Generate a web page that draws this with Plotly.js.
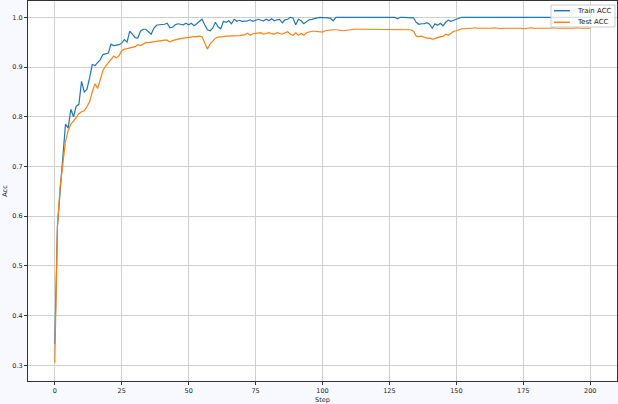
<!DOCTYPE html>
<html>
<head>
<meta charset="utf-8">
<script src="https://cdn.plot.ly/plotly-3.0.1.min.js"></script>
<style>
html,body{margin:0;padding:0;background:#f8f9ff;}
#chart{width:618px;height:404px;}
</style>
</head>
<body>
<div id="chart"></div>
<script>
const seriesNames = ["Train ACC", "Test ACC"];
const seriesColors = ["#1f77b4", "#ff7f0e"];
const xTickVals = [0, 25, 50, 75, 100, 125, 150, 175, 200];
const yTickVals = [0.3, 0.4, 0.5, 0.6, 0.7, 0.8, 0.9, 1.0];

const trainAcc = [
0.343,0.58,0.65,0.72,0.785,0.777,0.815,0.8,0.821,0.825,
0.871,0.85,0.855,0.878,0.905,0.903,0.908,0.915,0.925,0.927,
0.928,0.946,0.943,0.944,0.945,0.948,0.955,0.95,0.972,0.966,
0.959,0.958,0.972,0.976,0.976,0.971,0.966,0.978,0.984,0.985,
0.985,0.986,0.988,0.979,0.98,0.985,0.987,0.986,0.985,0.988,
0.985,0.988,0.983,0.987,0.992,0.996,0.985,0.975,0.973,0.978,
0.99,0.981,0.977,0.992,0.99,0.993,0.987,0.996,0.992,0.994,
0.992,0.992,0.993,0.995,0.992,0.994,0.996,0.994,0.993,0.996,
0.993,0.997,0.993,0.995,0.996,0.989,0.995,0.996,1.0,0.998,
0.985,0.996,0.993,0.987,0.991,0.995,0.996,0.998,0.999,1.0,
1.0,1.0,0.999,0.998,0.993,1.0,1.0,1.0,1.0,1.0,
1.0,1.0,1.0,1.0,1.0,1.0,1.0,1.0,1.0,1.0,
1.0,1.0,1.0,1.0,1.0,1.0,1.0,1.0,0.997,1.0,
1.0,1.0,1.0,1.0,0.999,0.99,0.986,0.987,0.987,0.989,
0.986,0.978,0.987,0.984,0.988,0.983,0.99,0.994,0.992,0.994,
0.996,0.998,1.0,1.0,1.0,1.0,1.0,1.0,1.0,1.0,
1.0,1.0,1.0,1.0,1.0,1.0,1.0,1.0,1.0,1.0,
1.0,1.0,1.0,1.0,1.0,1.0,1.0,1.0,1.0,1.0,
1.0,1.0,1.0,1.0,1.0,1.0,1.0,1.0,1.0,1.0,
1.0,1.0,1.0,1.0,1.0,1.0,1.0,1.0,1.0,1.0,
1.0
];

const testAcc = [
0.305,0.58,0.66,0.71,0.75,0.772,0.785,0.791,0.798,0.806,
0.81,0.812,0.82,0.83,0.85,0.866,0.857,0.877,0.893,0.902,
0.908,0.914,0.922,0.918,0.923,0.933,0.936,0.937,0.938,0.94,
0.941,0.945,0.943,0.946,0.949,0.949,0.95,0.95,0.951,0.952,
0.953,0.954,0.954,0.95,0.953,0.955,0.956,0.957,0.958,0.958,
0.96,0.96,0.961,0.961,0.962,0.961,0.95,0.936,0.946,0.953,
0.958,0.96,0.96,0.961,0.962,0.962,0.962,0.963,0.963,0.963,
0.964,0.965,0.968,0.964,0.967,0.968,0.968,0.969,0.966,0.968,
0.969,0.967,0.966,0.969,0.967,0.966,0.969,0.971,0.966,0.964,
0.969,0.964,0.968,0.964,0.969,0.971,0.972,0.972,0.971,0.971,
0.97,0.973,0.974,0.975,0.975,0.975,0.974,0.974,0.973,0.974,
0.975,0.975,0.976,0.976,0.976,0.976,0.976,0.975,0.975,0.976,
0.975,0.975,0.975,0.976,0.976,0.975,0.975,0.976,0.975,0.976,
0.976,0.975,0.976,0.975,0.972,0.962,0.961,0.962,0.96,0.958,
0.958,0.956,0.957,0.959,0.961,0.961,0.966,0.964,0.969,0.972,
0.973,0.975,0.977,0.977,0.978,0.978,0.978,0.979,0.978,0.978,
0.978,0.977,0.978,0.978,0.979,0.978,0.978,0.977,0.978,0.978,
0.978,0.979,0.978,0.978,0.978,0.977,0.978,0.978,0.979,0.978,
0.978,0.978,0.977,0.978,0.978,0.978,0.979,0.978,0.978,0.978,
0.978,0.977,0.978,0.978,0.978,0.979,0.978,0.978,0.978,0.978,
0.978
];

const steps = trainAcc.map((_, i) => i);

const font = {family: "DejaVu Sans, sans-serif", size: 6.5, color: "#222"};
const legendFont = {family: "DejaVu Sans, sans-serif", size: 7, color: "#222"};

const traces = [
  {x: steps, y: trainAcc, name: seriesNames[0], type: "scatter", mode: "lines",
   line: {color: seriesColors[0], width: 1.2}},
  {x: steps, y: testAcc, name: seriesNames[1], type: "scatter", mode: "lines",
   line: {color: seriesColors[1], width: 1.2}}
];

const axisCommon = {
  showgrid: true, gridcolor: "#cfcfcf", gridwidth: 1,
  zeroline: false, showline: true, linecolor: "#333", linewidth: 1, mirror: true,
  ticks: "outside", ticklen: 3, tickwidth: 1, tickcolor: "#333",
  tickfont: font, automargin: false
};

// legend drawn in paper coordinates (box, line samples, labels)
const legendBox = {x0: 0.888, x1: 0.9966, y0: 0.9316, y1: 0.9895};
const legendRowsY = [0.9745, 0.944];
const shapes = [
  {type: "rect", xref: "paper", yref: "paper", x0: legendBox.x0, x1: legendBox.x1,
   y0: legendBox.y0, y1: legendBox.y1, fillcolor: "rgba(255,255,255,0.8)",
   line: {color: "#cccccc", width: 1}, layer: "above"}
];
const annotations = [];
seriesNames.forEach((name, i) => {
  shapes.push({type: "line", xref: "paper", yref: "paper", x0: 0.893, x1: 0.920,
    y0: legendRowsY[i], y1: legendRowsY[i], line: {color: seriesColors[i], width: 1.5}, layer: "above"});
  annotations.push({xref: "paper", yref: "paper", x: 0.9287, y: legendRowsY[i],
    xanchor: "left", yanchor: "middle", text: name, showarrow: false, font: legendFont});
});

const layout = {
  width: 618, height: 404,
  paper_bgcolor: "#f8f9ff", plot_bgcolor: "#ffffff",
  margin: {l: 28, r: 1, t: 1, b: 23},
  font: font,
  showlegend: false,
  shapes: shapes,
  annotations: annotations,
  xaxis: Object.assign({}, axisCommon, {
    range: [-10, 210], tickvals: xTickVals, ticktext: xTickVals.map(String),
    title: {text: "Step", font: font, standoff: 4}
  }),
  yaxis: Object.assign({}, axisCommon, {
    range: [0.2684, 1.0328], tickvals: yTickVals, ticktext: yTickVals.map(v => v.toFixed(1)),
    title: {text: "Acc", font: font, standoff: 4}
  })
};

Plotly.newPlot("chart", traces, layout, {displayModeBar: false, staticPlot: true});
</script>
</body>
</html>
